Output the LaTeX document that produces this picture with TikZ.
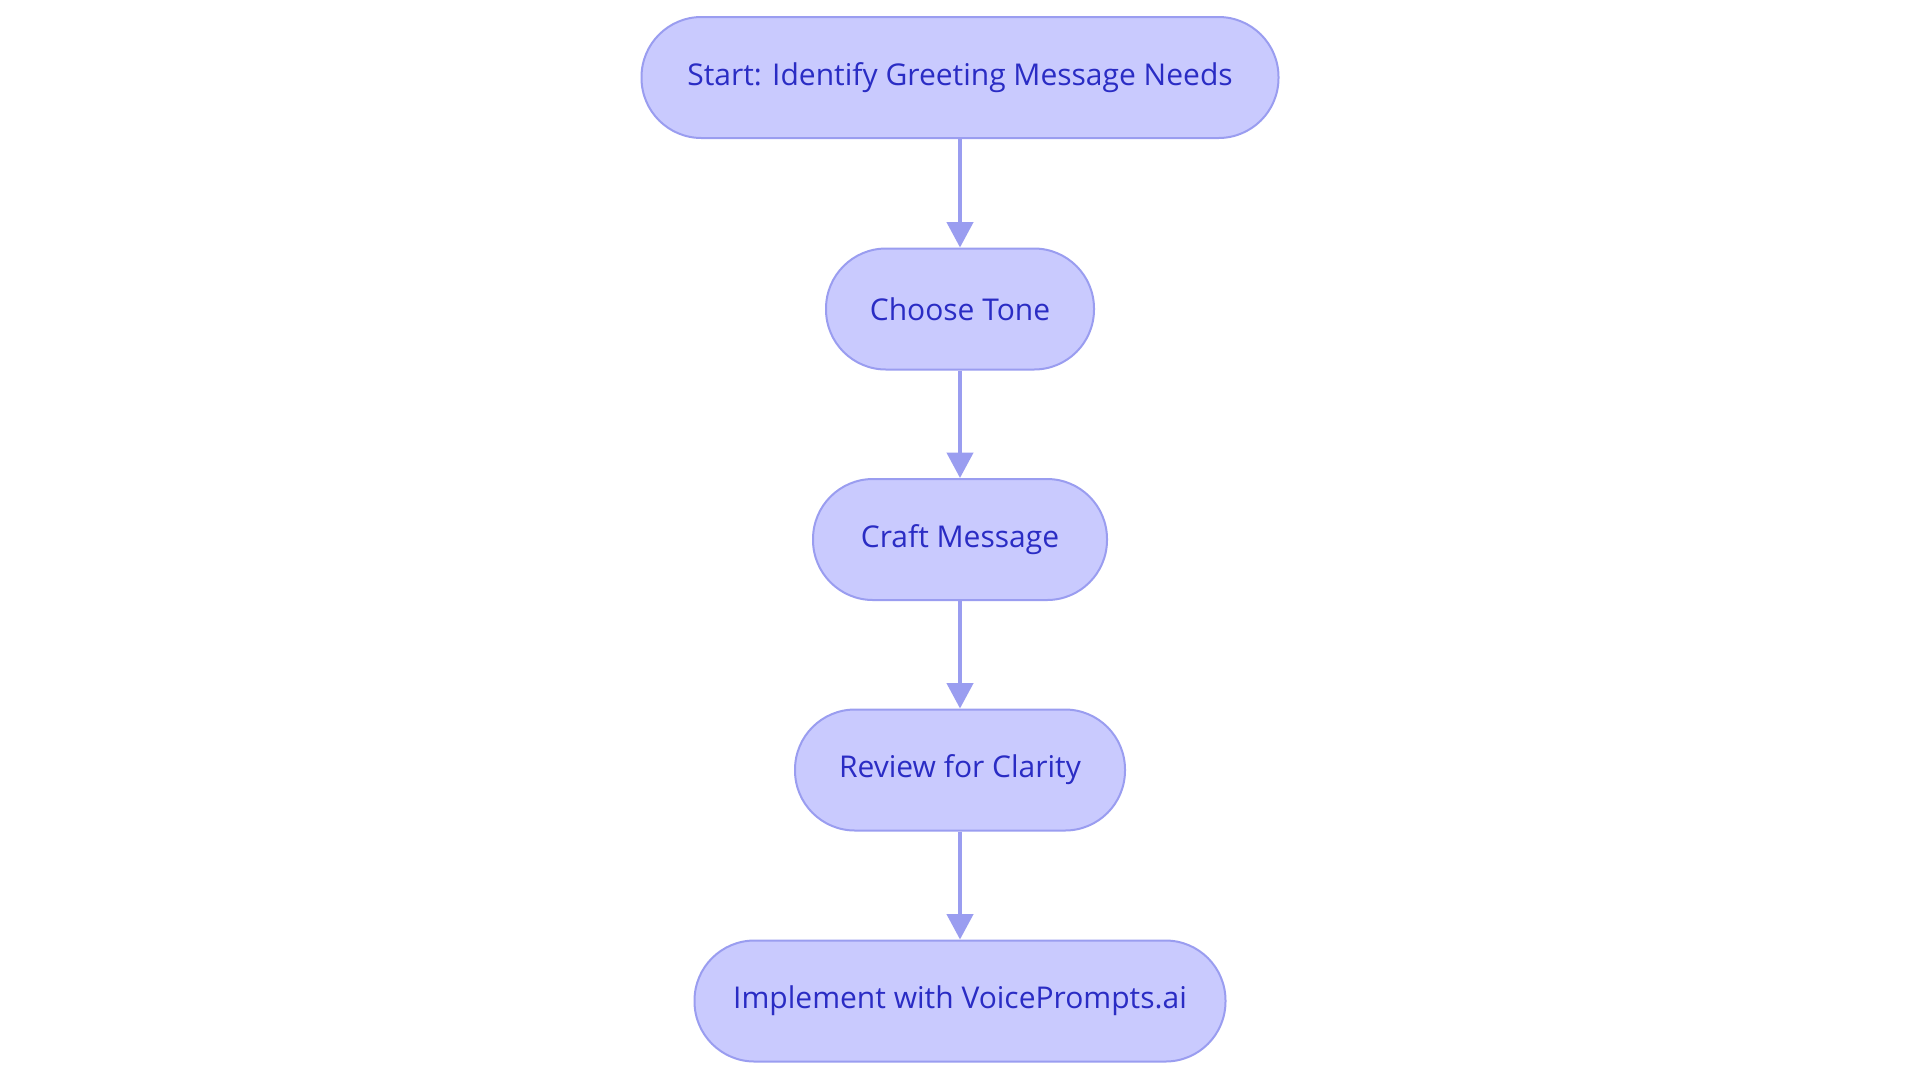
\documentclass[tikz,border=0pt]{standalone}
\usepackage{fontspec}
\setmainfont{Open Sans}
\usetikzlibrary{arrows.meta}
\definecolor{boxfill}{HTML}{C9CAFE}
\definecolor{boxline}{HTML}{9A9DF0}
\definecolor{boxtext}{HTML}{2A2CC4}
\begin{document}
\begin{tikzpicture}[x=0.75pt,y=-0.75pt,
  stadium/.style={draw=boxline,fill=boxfill,line width=1.5pt,
    rounded corners=45pt,minimum height=90.75pt,inner sep=0pt,
    text=boxtext,font=\fontsize{22.5pt}{27pt}\selectfont},
  flow/.style={draw=boxline,line width=3pt,-{Triangle[width=19.5pt,length=19pt]}}]
\useasboundingbox[fill=white] (0,0) rectangle (1920,1083);
\node[stadium,minimum width=637*0.75pt] (n1) at (960,77.5) {Start: Identify Greeting Message Needs};
\node[stadium,minimum width=268*0.75pt] (n2) at (960,309) {Choose Tone};
\node[stadium,minimum width=294*0.75pt] (n3) at (960,539.5) {Craft Message};
\node[stadium,minimum width=330*0.75pt] (n4) at (960,770) {Review for Clarity};
\node[stadium,minimum width=531*0.75pt] (n5) at (960,1001) {Implement with VoicePrompts.ai};
\draw[flow] (n1) -- (n2);
\draw[flow] (n2) -- (n3);
\draw[flow] (n3) -- (n4);
\draw[flow] (n4) -- (n5);
\end{tikzpicture}
\end{document}
